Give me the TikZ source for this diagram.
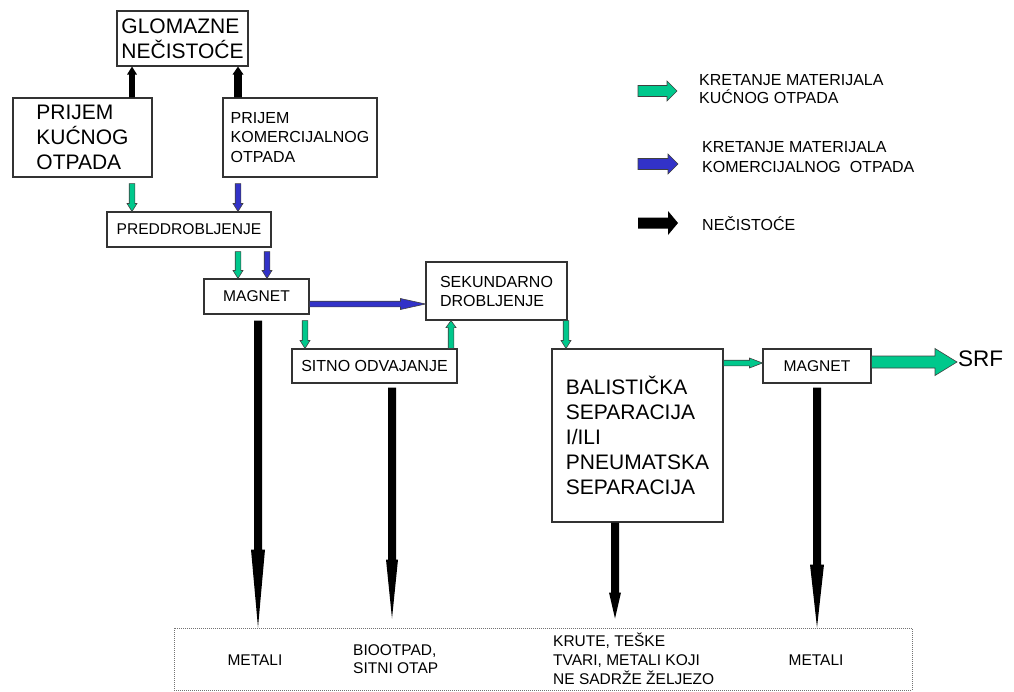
\documentclass[tikz,border=0pt]{standalone}
\usepackage{fontspec}
\setmainfont{Liberation Sans}
\usetikzlibrary{calc}
\definecolor{kgreen}{RGB}{0,200,140}
\definecolor{kblue}{RGB}{50,50,200}
\newcommand\fatarrow[6]{%
  \coordinate (fatmid) at ($#3!#6pt!#2$);
  \path[#1] ($#2!#4pt!90:#3$) -- ($(fatmid)!#4pt!90:#3$) -- ($(fatmid)!#5pt!90:#3$) -- #3 -- ($(fatmid)!#5pt!-90:#3$) -- ($(fatmid)!#4pt!-90:#3$) -- ($#2!#4pt!-90:#3$) -- cycle;}
\tikzset{
  box/.style={draw=black!80, line width=1.1pt, fill=white, inner sep=0pt},
  gfat/.style={fill=kgreen, draw=black!75, line width=0.6pt},
  bfat/.style={fill=kblue, draw=black!75, line width=0.6pt},
  kfat/.style={fill=black},
  lbl/.style={inner sep=0pt, align=left},
}
\begin{document}
\begin{tikzpicture}[x=1pt,y=-1pt]
\useasboundingbox (0,0) rectangle (1014,691);
% boxes
\node[box, minimum width=131pt, minimum height=55pt, align=left, font=\fontsize{21}{25}\selectfont] (glo) at (182.5,38.5) {GLOMAZNE\\NEČISTOĆE};
\node[box, minimum width=139pt, minimum height=79pt, align=left, font=\fontsize{21}{25}\selectfont] (kuc) at (82.5,137.5) {PRIJEM\\KUĆNOG\\OTPADA};
\node[box, minimum width=154pt, minimum height=79pt, align=left, font=\fontsize{16}{19.5}\selectfont] (kom) at (300,137.5) {PRIJEM\\KOMERCIJALNOG\\OTPADA};
\node[box, minimum width=164pt, minimum height=35pt, font=\fontsize{15.6}{19}\selectfont] (pre) at (189,229.5) {PREDDROBLJENJE};
\node[box, minimum width=105pt, minimum height=35pt, font=\fontsize{15.6}{19}\selectfont] (mag) at (256.5,296.5) {MAGNET};
\node[box, minimum width=141pt, minimum height=58pt, align=left, font=\fontsize{16}{19}\selectfont] (sek) at (496.5,291) {SEKUNDARNO\\DROBLJENJE};
\node[box, minimum width=165pt, minimum height=34pt, font=\fontsize{16}{19}\selectfont] (sit) at (374.5,366) {SITNO ODVAJANJE};
\node[box, minimum width=171pt, minimum height=173pt, align=left, font=\fontsize{21}{25}\selectfont] (bal) at (637.5,435.5) {BALISTIČKA\\SEPARACIJA\\I/ILI\\PNEUMATSKA\\SEPARACIJA};
\node[box, minimum width=108pt, minimum height=34pt, font=\fontsize{15.6}{19}\selectfont] (mag2) at (817,366) {MAGNET};
\node[draw=black!55, densely dotted, line width=1pt, minimum width=738pt, minimum height=62pt, inner sep=0pt] (out) at (543,659) {};
\node[lbl, anchor=west, font=\fontsize{22.5}{26}\selectfont] (srf) at (958,359) {SRF};
% bottom labels
\node[lbl, font=\fontsize{15.5}{18.5}\selectfont] (t1) at (255,660) {METALI};
\node[lbl, anchor=west, font=\fontsize{15.5}{18.5}\selectfont] (t2) at (353,659) {BIOOTPAD,\\SITNI OTAP};
\node[lbl, anchor=west, font=\fontsize{15.5}{19}\selectfont] (t3) at (553,659) {KRUTE, TEŠKE\\TVARI, METALI KOJI\\NE SADRŽE ŽELJEZO};
\node[lbl, font=\fontsize{15.5}{18.5}\selectfont] (t4) at (816,660) {METALI};
% legend
\node[lbl, anchor=west, font=\fontsize{16}{18.5}\selectfont] (l1) at (699,89) {KRETANJE MATERIJALA\\KUĆNOG OTPADA};
\node[lbl, anchor=west, font=\fontsize{16}{19.5}\selectfont] (l2) at (702,157) {KRETANJE MATERIJALA\\KOMERCIJALNOG\ \ OTPADA};
\node[lbl, anchor=west, font=\fontsize{16}{19}\selectfont] (l3) at (702,224) {NEČISTOĆE};
% coordinates
\coordinate (up1s) at ([xshift=49.5pt]kuc.north);
\coordinate (up1e) at ([xshift=-50.5pt]glo.south);
\coordinate (up2s) at ([xshift=-62pt]kom.north);
\coordinate (up2e) at ([xshift=55.5pt]glo.south);
\coordinate (g1s) at ([xshift=49.5pt,yshift=-6pt]kuc.south);
\coordinate (g1e) at ([xshift=-57pt]pre.north);
\coordinate (b1s) at ([xshift=-62pt,yshift=-6pt]kom.south);
\coordinate (b1e) at ([xshift=49pt]pre.north);
\coordinate (g2s) at ([xshift=49pt,yshift=-4pt]pre.south);
\coordinate (g2e) at ([xshift=-18.5pt]mag.north);
\coordinate (b2s) at ([xshift=78pt,yshift=-4pt]pre.south);
\coordinate (b2e) at ([xshift=10.5pt]mag.north);
\coordinate (b3s) at ([yshift=-7.5pt]mag.east);
\coordinate (b3e) at ([yshift=-13pt]sek.west);
\coordinate (g3s) at ([xshift=48.5pt,yshift=-6pt]mag.south);
\coordinate (g3e) at ([xshift=-69.5pt]sit.north);
\coordinate (g4s) at ([xshift=76.5pt]sit.north);
\coordinate (g4e) at ([xshift=-45.5pt]sek.south);
\coordinate (g5s) at ([xshift=69.5pt]sek.south);
\coordinate (g5e) at ([xshift=-71.5pt]bal.north);
\coordinate (g6s) at ([yshift=72.5pt]bal.east);
\coordinate (g6e) at ([yshift=3pt]mag2.west);
\coordinate (srfs) at ([yshift=4pt]mag2.east);
\coordinate (srfe) at ([xshift=-1pt,yshift=-3pt]srf.west);
\coordinate (k1s) at ([xshift=1.5pt,yshift=-6pt]mag.south);
\coordinate (k1e) at ([xshift=-285pt]out.north);
\coordinate (k2s) at ([xshift=17.5pt,yshift=-4pt]sit.south);
\coordinate (k2e) at ([xshift=-151pt,yshift=9pt]out.north);
\coordinate (k3s) at ([xshift=-22.5pt]bal.south);
\coordinate (k3e) at ([xshift=72pt,yshift=9pt]out.north);
\coordinate (k4s) at ([yshift=-4pt]mag2.south);
\coordinate (k4e) at ([xshift=274pt]out.north);
\coordinate (lg1s) at (638,91);
\coordinate (lg1e) at (677,91);
\coordinate (lg2s) at (638,164);
\coordinate (lg2e) at (678,164);
\coordinate (lg3s) at (638,223);
\coordinate (lg3e) at (678,223);
% arrows
\fatarrow{kfat}{(up1s)}{(up1e)}{2.8}{5}{8}
\fatarrow{kfat}{(up2s)}{(up2e)}{3.8}{5.5}{8}
\fatarrow{gfat}{(g1s)}{(g1e)}{2.8}{5}{8}
\fatarrow{bfat}{(b1s)}{(b1e)}{2.8}{5}{8}
\fatarrow{gfat}{(g2s)}{(g2e)}{2.8}{5}{8}
\fatarrow{bfat}{(b2s)}{(b2e)}{2.8}{5}{8}
\fatarrow{bfat}{(b3s)}{(b3e)}{2.8}{5.5}{25}
\fatarrow{gfat}{(g3s)}{(g3e)}{2.8}{5}{8}
\fatarrow{gfat}{(g4s)}{(g4e)}{2.8}{5}{7}
\fatarrow{gfat}{(g5s)}{(g5e)}{2.8}{5}{8}
\fatarrow{gfat}{(g6s)}{(g6e)}{2.8}{5}{13}
\fatarrow{gfat}{(srfs)}{(srfe)}{6}{13.5}{22}
\fatarrow{kfat}{(k1s)}{(k1e)}{4}{7}{78}
\fatarrow{kfat}{(k2s)}{(k2e)}{4}{6}{59}
\fatarrow{kfat}{(k3s)}{(k3e)}{4}{6}{26}
\fatarrow{kfat}{(k4s)}{(k4e)}{4}{7}{63}
\fatarrow{gfat}{(lg1s)}{(lg1e)}{5.5}{10}{10}
\fatarrow{bfat}{(lg2s)}{(lg2e)}{5.5}{10}{10}
\fatarrow{kfat}{(lg3s)}{(lg3e)}{5.5}{12}{10}
\end{tikzpicture}
\end{document}
